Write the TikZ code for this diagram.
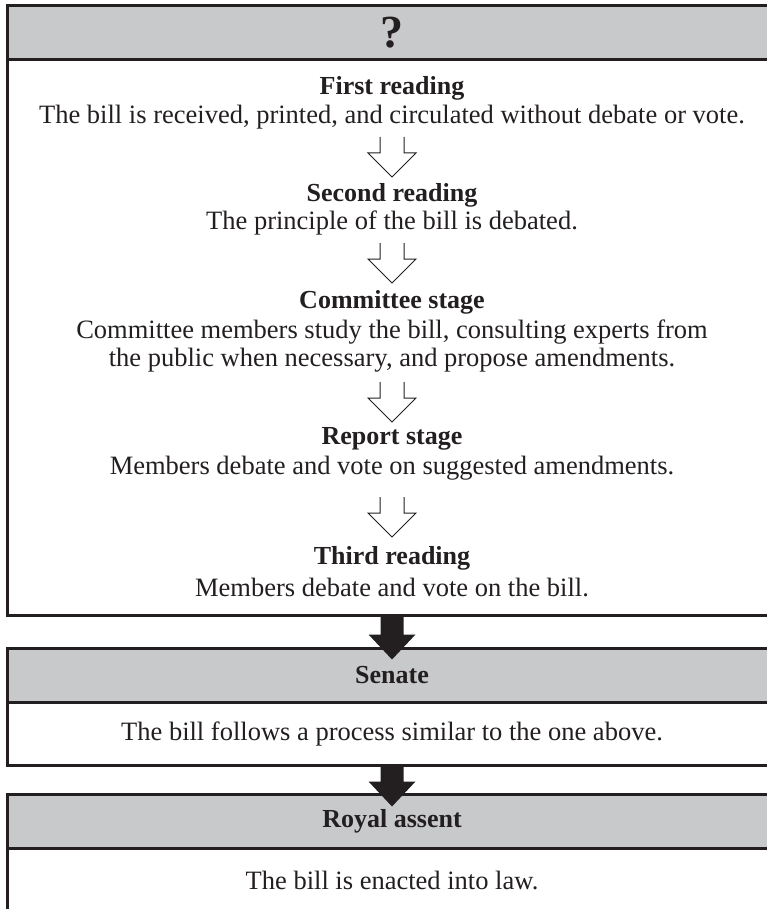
\documentclass[tikz,border=0pt]{standalone}
\usepackage{fontspec}
\setmainfont{Liberation Serif}
\definecolor{headgray}{RGB}{200,201,203}
\definecolor{ink}{RGB}{35,31,32}
\tikzset{
	headbox/.style={draw=ink, line width=3pt, fill=headgray, minimum width=770pt, minimum height=54pt, inner sep=0pt, text=ink, font=\fontsize{26}{31}\selectfont\bfseries},
	bodybox/.style={draw=ink, line width=3pt, fill=white, minimum width=770pt, inner sep=0pt, text=ink, font=\fontsize{26.5}{31}\selectfont},
	stagetitle/.style={text=ink, font=\fontsize{26}{31}\selectfont\bfseries},
	stagetext/.style={text=ink, align=center, font=\fontsize{26.5}{28.5}\selectfont},
	openarrow/.style={draw=ink, line width=1pt, fill=white},
	solidarrow/.style={fill=ink}
}

\begin{document}
\begin{tikzpicture}[x=1pt,y=-1pt]
	\useasboundingbox (0,0) rectangle (767,909);
	\clip (0,0) rectangle (767,909);
	\node[bodybox, minimum height=555pt] (mainbody) at (392,337.5) {};
	\node[headbox, font=\fontsize{46}{50}\selectfont\bfseries] (mainhead) at (392,33) {?};
	\node[stagetitle] (first) at (392,88) {First reading};
	\node[stagetext] (firsttext) at (392,117) {The bill is received, printed, and circulated without debate or vote.};
	\node[stagetitle] (second) at (392,195) {Second reading};
	\node[stagetext] (secondtext) at (392,223) {The principle of the bill is debated.};
	\node[stagetitle] (committee) at (392,302) {Committee stage};
	\node[stagetext] (committeetext) at (392,346) {Committee members study the bill, consulting experts from\\the public when necessary, and propose amendments.};
	\node[stagetitle] (report) at (392,439) {Report stage};
	\node[stagetext] (reporttext) at (392,468) {Members debate and vote on suggested amendments.};
	\node[stagetitle] (third) at (392,558) {Third reading};
	\node[stagetext] (thirdtext) at (392,587) {Members debate and vote on the bill.};
	\coordinate (arr1) at (392,137);
	\coordinate (arr2) at (392,243);
	\coordinate (arr3) at (392,382);
	\coordinate (arr4) at (392,497);
	\draw[openarrow] (arr1) ++(-12,0) -- ++(0,16) -- ++(-12,0) -- ++(24,24) -- ++(24,-24) -- ++(-12,0) -- ++(0,-16);
	\draw[openarrow] (arr2) ++(-12,0) -- ++(0,16) -- ++(-12,0) -- ++(24,24) -- ++(24,-24) -- ++(-12,0) -- ++(0,-16);
	\draw[openarrow] (arr3) ++(-12,0) -- ++(0,16) -- ++(-12,0) -- ++(24,24) -- ++(24,-24) -- ++(-12,0) -- ++(0,-16);
	\draw[openarrow] (arr4) ++(-12,0) -- ++(0,16) -- ++(-12,0) -- ++(24,24) -- ++(24,-24) -- ++(-12,0) -- ++(0,-16);
	\node[bodybox, minimum height=63pt] (senatebody) at (392,733.5) {The bill follows a process similar to the one above.};
	\node[headbox] (senatehead) at (392,675) {Senate};
	\node[bodybox, minimum height=64pt] (assentbody) at (392,880) {The bill is enacted into law.};
	\node[headbox] (assenthead) at (392,821) {Royal assent};
	\fill[solidarrow] (mainbody.south) ++(-11.5,0) -- ++(0,18) -- ++(-12,0) -- ++(23.5,25) -- ++(23.5,-25) -- ++(-12,0) -- ++(0,-18) -- cycle;
	\fill[solidarrow] (senatebody.south) ++(-11.5,0) -- ++(0,15) -- ++(-12,0) -- ++(23.5,25) -- ++(23.5,-25) -- ++(-12,0) -- ++(0,-15) -- cycle;
\end{tikzpicture}
\end{document}
